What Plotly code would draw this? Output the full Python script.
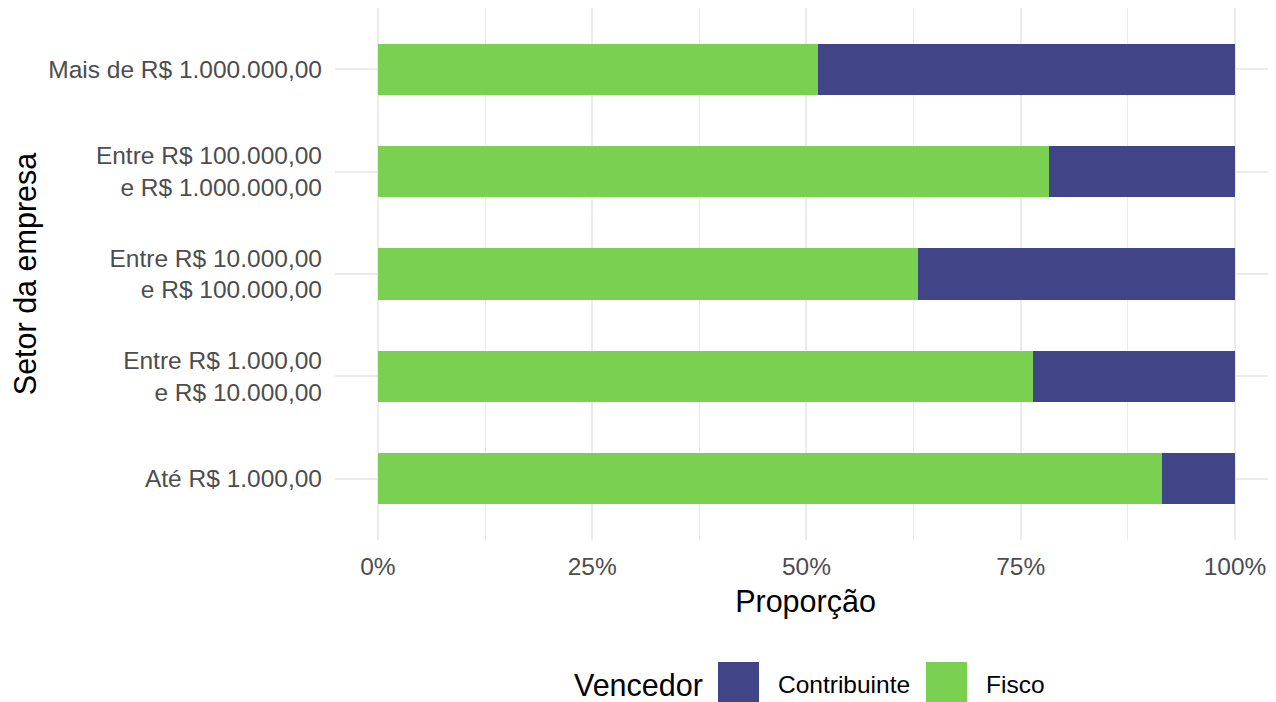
import plotly.graph_objects as go

categories = [
    "Até R$ 1.000,00",
    "Entre R$ 1.000,00<br>e R$ 10.000,00",
    "Entre R$ 10.000,00<br>e R$ 100.000,00",
    "Entre R$ 100.000,00<br>e R$ 1.000.000,00",
    "Mais de R$ 1.000.000,00",
]
fisco = [0.915, 0.764, 0.630, 0.783, 0.513]
contribuinte = [0.085, 0.236, 0.370, 0.217, 0.487]
series_names = ["Contribuinte", "Fisco"]
series_colors = ["#414487", "#7AD151"]
x_ticks = [0, 0.25, 0.5, 0.75, 1.0]
x_tick_labels = ["0%", "25%", "50%", "75%", "100%"]

FONT = "Liberation Sans, Arial, sans-serif"
W, H = 1268, 694
L, R, T, B = 327, 0, 0, 162
pw, ph = W - L - R, H - T - B

fig = go.Figure()
fig.add_trace(go.Bar(y=categories, x=fisco, name=series_names[1], orientation="h",
                     marker=dict(color=series_colors[1], line=dict(width=0)),
                     width=0.5, showlegend=False))
fig.add_trace(go.Bar(y=categories, x=contribuinte, name=series_names[0], orientation="h",
                     marker=dict(color=series_colors[0], line=dict(width=0)),
                     width=0.5, showlegend=False))

fig.update_layout(
    width=W, height=H,
    margin=dict(l=L, r=R, t=T, b=B),
    barmode="stack",
    plot_bgcolor="white", paper_bgcolor="white",
    font=dict(family=FONT, size=24.5, color="#4D4D4D"),
    showlegend=False,
)
fig.update_xaxes(
    range=[-0.05, 1.0478],
    tickvals=x_ticks, ticktext=x_tick_labels,
    showgrid=True, gridcolor="#EBEBEB", gridwidth=1.8,
    minor=dict(dtick=0.125, tick0=0.125, showgrid=True, gridcolor="#EBEBEB", gridwidth=0.9),
    zeroline=False, showline=False, ticks="",
    tickfont=dict(size=24.5, color="#4D4D4D"),
    ticklabelstandoff=9,
    title=dict(text="Proporção", font=dict(size=30.5, color="black"), standoff=12),
)
fig.update_yaxes(
    range=[-0.6, 4.6],
    categoryorder="array", categoryarray=categories,
    showgrid=True, gridcolor="#EBEBEB", gridwidth=1.8,
    zeroline=False, showline=False, ticks="",
    tickfont=dict(size=24.5, color="#4D4D4D"),
    ticklabelstandoff=12,
    title=dict(text="Setor da empresa", font=dict(size=30.5, color="black"), standoff=14),
)

def px2x(px):
    return (px - L) / pw

def py2y(py):
    return (H - B - py) / ph

# manual legend (large keys like ggplot)
fig.add_annotation(x=px2x(564), y=py2y(677), xref="paper", yref="paper", text="Vencedor",
                   showarrow=False, xanchor="left", yanchor="middle",
                   font=dict(size=30.5, color="black", family=FONT))
key_x = [710, 918]
for i, name in enumerate(series_names):
    kx = key_x[i]
    fig.add_shape(type="rect", xref="paper", yref="paper",
                  x0=px2x(kx), x1=px2x(kx + 41), y0=py2y(654), y1=py2y(695),
                  fillcolor=series_colors[i], line=dict(width=0), layer="above")
    fig.add_annotation(x=px2x(kx + 58), y=py2y(676), xref="paper", yref="paper", text=name,
                       showarrow=False, xanchor="left", yanchor="middle",
                       font=dict(size=24.5, color="black", family=FONT))

fig.write_html("out.html")
